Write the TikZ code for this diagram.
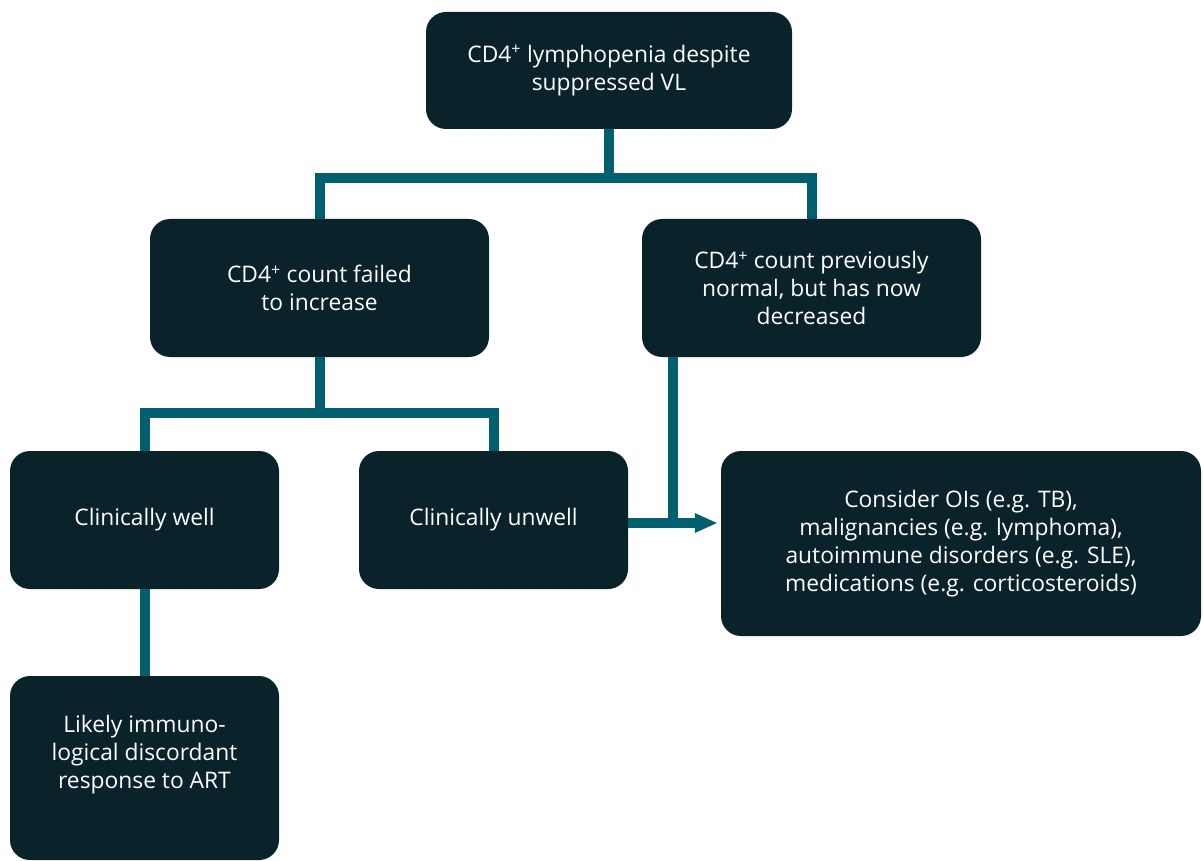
\documentclass[tikz,border=0pt]{standalone}
\usepackage{fontspec}
\setmainfont{Open Sans}
\usetikzlibrary{arrows.meta}
\definecolor{boxdark}{RGB}{10,34,41}
\definecolor{linkteal}{RGB}{0,96,112}
\begin{document}
\begin{tikzpicture}[x=1pt, y=-1pt, inner sep=0pt,
		boxstyle/.style={fill=boxdark, rounded corners=20pt, text=white, align=center,
			font=\fontsize{22.8}{28}\selectfont},
		linkstyle/.style={draw=linkteal, line width=10pt},
		arrowstyle/.style={linkstyle, -{Triangle[length=23pt, width=18pt]}, shorten >=3pt}]

		\useasboundingbox (0,0) rectangle (1203,861);

		\node [boxstyle, minimum width=366pt, minimum height=117pt] (top) at (609,70.5) {CD4\textsuperscript{+} lymphopenia despite\\suppressed VL};
		\node [boxstyle, minimum width=339pt, minimum height=138pt] (failed) at (319.5,288) {CD4\textsuperscript{+} count failed\\to increase};
		\node [boxstyle, minimum width=339pt, minimum height=138pt] (prev) at (811.5,288) {CD4\textsuperscript{+} count previously\\normal, but has now\\decreased};
		\node [boxstyle, minimum width=269pt, minimum height=138pt] (well) at (144.5,520) {Clinically well};
		\node [boxstyle, minimum width=269pt, minimum height=138pt] (unwell) at (493.5,520) {Clinically unwell};
		\node [boxstyle, minimum width=480pt, minimum height=185pt] (consider) at (961,543.5) {Consider OIs (e.g. TB),\\malignancies (e.g. lymphoma),\\autoimmune disorders (e.g. SLE),\\medications (e.g. corticosteroids)};
		\node [boxstyle, minimum width=269pt, minimum height=184pt] (likely) at (144.5,768) {};
		\node [boxstyle, fill=none] (likelytext) at (144.5,755) {Likely immuno-\\logical discordant\\response to ART};

		\coordinate (split1) at (609,178);
		\coordinate (split2) at (319.5,413);
		\coordinate (join) at (673,523);

 		\draw [linkstyle] (top) -- (split1);
		\draw [linkstyle] (failed.north) |- (split1) -| (prev.north);
		\draw [linkstyle] (failed) -- (split2);
		\draw [linkstyle] (well.north) |- (split2) -| (unwell.north);
		\draw [linkstyle] (well) -- (likely);
		\draw [linkstyle] (prev.south -| join) -- (join);
		\draw [arrowstyle] (unwell.east |- join) -- (consider.west |- join);
		\end{tikzpicture}
\end{document}
